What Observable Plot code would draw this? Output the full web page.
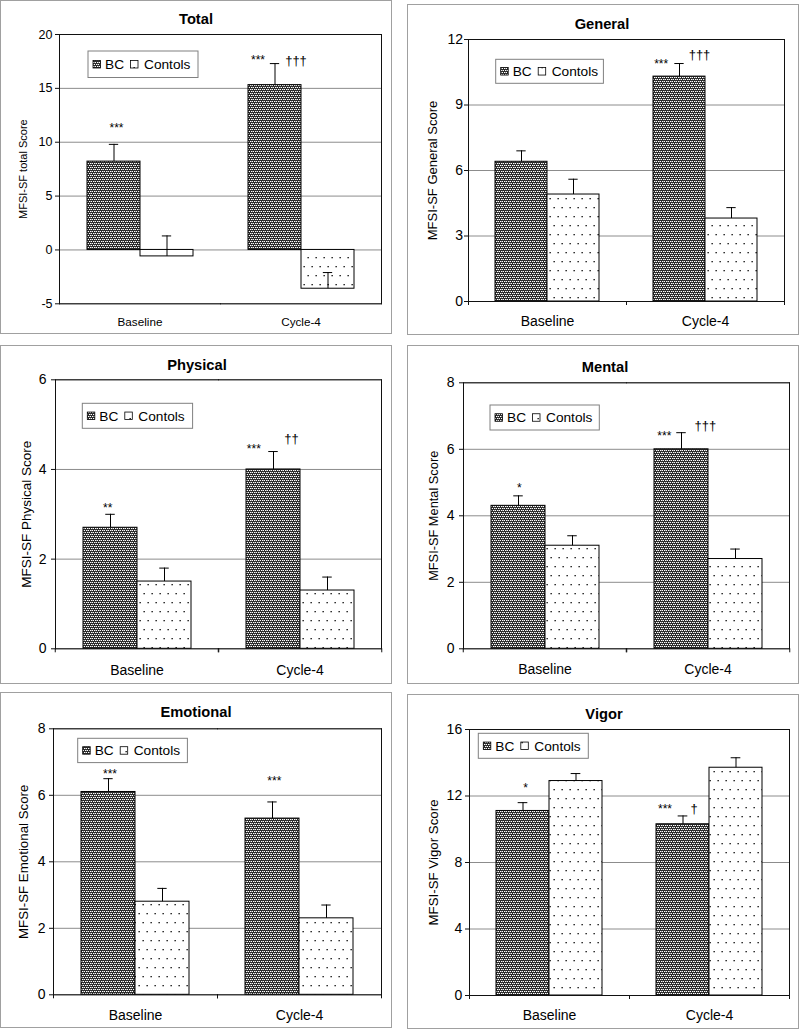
<!DOCTYPE html>
<html><head><meta charset="utf-8">
<script src="https://cdn.jsdelivr.net/npm/d3@7"></script>
<script src="https://cdn.jsdelivr.net/npm/@observablehq/plot@0.6"></script>
<style>
body{margin:0;background:#fff;font-family:"Liberation Sans",Arial,sans-serif;}
#page{position:relative;width:800px;height:1029px;overflow:hidden;background:#fff;}
.panel{position:absolute;box-sizing:border-box;border:1.5px solid #a0a0a0;z-index:2;pointer-events:none;}
.wrap{position:absolute;z-index:1;}
.wrap svg{display:block;}
#overlay{position:absolute;left:0;top:0;z-index:3;pointer-events:none;}
</style></head><body>
<svg width="0" height="0" style="position:absolute">
<defs>
<pattern id="patBC" width="4" height="4" patternUnits="userSpaceOnUse">
<rect width="4" height="4" fill="#2c2c2c"/>
<rect x="0" y="0" width="1" height="1" fill="#fff"/>
<rect x="2" y="0" width="1" height="1" fill="#fff"/>
<rect x="1" y="2" width="1" height="1" fill="#fff"/>
<rect x="3" y="2" width="1" height="1" fill="#fff"/>
<rect x="1" y="0" width="1" height="1" fill="#888"/>
<rect x="2" y="2" width="1" height="1" fill="#888"/>
</pattern>
<pattern id="patCtl" width="8" height="18" patternUnits="userSpaceOnUse">
<rect width="8" height="18" fill="#fff"/>
<rect x="1.5" y="4" width="1.3" height="1.3" fill="#000"/>
<rect x="5.5" y="13" width="1.3" height="1.3" fill="#000"/>
</pattern>
</defs></svg>
<div id="page"></div>
<script>
// ---- data ----
const panelTitles = ["Total","General","Physical","Mental","Emotional","Vigor"];
const times = ["Baseline","Cycle-4"];
const groups = ["BC","Contols"];
const yLabels = ["MFSI-SF total Score","MFSI-SF General Score","MFSI-SF Physical Score","MFSI-SF Mental Score","MFSI-SF Emotional Score","MFSI-SF Vigor Score"];
const bcMean  = [[8.2,15.3],[6.4,10.3],[2.7,4.0],[4.3,6.0],[6.1,5.3],[11.1,10.3]];
const bcErr   = [[1.6,2.0],[0.5,0.6],[0.3,0.4],[0.3,0.5],[0.4,0.5],[0.5,0.5]];
const ctlMean = [[-0.6,-3.6],[4.9,3.8],[1.5,1.3],[3.1,2.7],[2.8,2.3],[12.9,13.7]];
const ctlErr  = [[1.9,1.5],[0.7,0.5],[0.3,0.3],[0.3,0.3],[0.4,0.4],[0.45,0.6]];
const yTicks  = [[-5,0,5,10,15,20],[0,3,6,9,12],[0,2,4,6],[0,2,4,6,8],[0,2,4,6,8],[0,4,8,12,16]];
const sigVsCtl  = [["***","***"],["","***"],["**","***"],["*","***"],["***","***"],["*","***"]];
const sigVsBase = [["","†††"],["","†††"],["","††"],["","†††"],["",""],["","†"]];

// ---- layout (page pixels) ----
const layout = [
 {box:[1,1,390,332],   plot:[59,34,381,303.3],   tickFs:12.5, tickPad:3, labFs:11,   labOff:40, xFs:11.7, xPad:14,   catTicks:false, legend:[88,51,110,26.5],    title:[196,19],
  star:[[2.5,-12.2],[-17,0.2]], dag:[null,[21,1.3]]},
 {box:[408,5,390,329], plot:[468,39,784,301],    tickFs:14, tickPad:1.5, labFs:13, labOff:41, xFs:14,   xPad:14.7, catTicks:true, legend:[495.7,59.3,107.7,24], title:[602,24],
  star:[null,[-18.3,4.5]], dag:[null,[20,-4.7]]},
 {box:[1,346,390,337], plot:[54,379.3,381,648.3], tickFs:14, tickPad:5, labFs:13.5, labOff:34, xFs:14,   xPad:16,   catTicks:true, legend:[82.3,403.3,110.3,25], title:[197,365],
  star:[[-2.8,-2.5],[-19.7,1.5]], dag:[null,[18,-8.4]]},
 {box:[408,346,390,337], plot:[462,382.3,789,648.3], tickFs:14, tickPad:5, labFs:12.8, labOff:35, xFs:14, xPad:15,  catTicks:true, legend:[490,405,109.3,25], title:[605,367],
  star:[[0.8,-3.5],[-17.2,7.2]], dag:[null,[23.8,-2.7]]},
 {box:[1,693,390,334], plot:[53,728.3,381,994.3], tickFs:14, tickPad:4, labFs:13.3, labOff:35, xFs:14,   xPad:15.7, catTicks:true, legend:[77.7,738.3,109.7,24.3], title:[196,712],
  star:[[1.5,-0.8],[1.8,-16.9]], dag:[null,null]},
 {box:[408,695,390,333], plot:[469,729,789,995],   tickFs:14, tickPad:3.3, labFs:13.3, labOff:41, xFs:14, xPad:15,  catTicks:true, legend:[478.3,733.3,110,25], title:[604,714],
  star:[[2.7,-10.2],[-18,-2.5]], dag:[null,[11,-3.4]]}
];

const FONT = "'Liberation Sans', Arial, sans-serif";
const page = document.getElementById("page");

function makePanel(i) {
  const L = layout[i];
  const rows = [];
  times.forEach((t, j) => {
    rows.push({time: t, group: groups[0], value: bcMean[i][j], err: bcErr[i][j]});
    rows.push({time: t, group: groups[1], value: ctlMean[i][j], err: ctlErr[i][j]});
  });
  const [bx, by, bw, bh] = L.box;
  const [pl, pt, pr, pb] = L.plot;
  const fxBand = (pr - pl) / 2;
  const barW = fxBand / 3;
  const capInset = (barW - 10) / 2;
  const top = d => d.value + d.err;
  const ticks = yTicks[i];

  const annot = [];
  times.forEach((t, j) => {
    const row = rows.find(d => d.time === t && d.group === groups[0]);
    if (sigVsCtl[i][j]) annot.push(Plot.text([row], {fx: "time", x: "group", y: top, text: () => sigVsCtl[i][j],
      dx: L.star[j][0], dy: L.star[j][1], fontSize: 12, lineAnchor: "bottom", textAnchor: "middle", fill: "#000"}));
    if (sigVsBase[i][j]) annot.push(Plot.text([row], {fx: "time", x: "group", y: top, text: () => sigVsBase[i][j],
      dx: L.dag[j][0], dy: L.dag[j][1], fontSize: 13, lineAnchor: "bottom", textAnchor: "middle", fill: "#000"}));
  });

  const marks = [
    Plot.gridY(ticks, {stroke: "#8c8c8c", strokeOpacity: 1}),
    Plot.barY(rows.filter(d => d.group === groups[0]), {fx: "time", x: "group", y: "value", fill: "url(#patBC)", stroke: "#000", strokeWidth: 1}),
    Plot.barY(rows.filter(d => d.group === groups[1]), {fx: "time", x: "group", y: "value", fill: "url(#patCtl)", stroke: "#000", strokeWidth: 1}),
    Plot.ruleX(rows, {fx: "time", x: "group", y1: "value", y2: top, stroke: "#000", strokeWidth: 1}),
    Plot.tickY(rows, {fx: "time", x: "group", y: top, insetLeft: capInset, insetRight: capInset, stroke: "#000", strokeWidth: 1}),
    ...annot,
    Plot.frame({anchor: "top", stroke: "#111"}),
    Plot.frame({anchor: "bottom", stroke: "#111"}),
    Plot.frame({anchor: "left", facetAnchor: "left", stroke: "#111"}),
    Plot.frame({anchor: "right", facetAnchor: "right", stroke: "#111"}),
    Plot.axisY({ticks, tickSize: 4, tickPadding: L.tickPad, tickFormat: d => String(d), fontSize: L.tickFs, label: null, stroke: "#111"}),
    Plot.axisY({ticks: [], tickSize: 0, label: yLabels[i], labelAnchor: "center", labelArrow: "none", labelOffset: L.labOff, fontSize: L.labFs}),
    Plot.axisFx({anchor: "bottom", tickSize: 0, tickPadding: L.xPad, fontSize: L.xFs, label: null})
  ];
  if (L.catTicks) {
    marks.push(Plot.axisFx({anchor: "bottom", tickSize: 4, text: null, label: null, dx: fxBand / 2, stroke: "#111"}));
    marks.push(Plot.axisFx({anchor: "bottom", tickSize: 4, text: null, label: null, dx: -fxBand / 2, stroke: "#111"}));
  }

  const svg = Plot.plot({
    width: bw, height: bh,
    marginLeft: pl - bx, marginTop: pt - by, marginRight: bx + bw - pr, marginBottom: by + bh - pb,
    style: {fontFamily: FONT, fontSize: L.tickFs + "px", background: "transparent", overflow: "visible", color: "#000"},
    fx: {domain: times, padding: 0, label: null, axis: null},
    x: {domain: groups, paddingInner: 0, paddingOuter: 0.5, axis: null},
    y: {domain: [ticks[0], ticks[ticks.length - 1]], axis: null},
    marks
  });
  const wrap = document.createElement("div");
  wrap.className = "wrap";
  wrap.style.left = bx + "px"; wrap.style.top = by + "px";
  wrap.style.width = bw + "px"; wrap.style.height = bh + "px";
  wrap.appendChild(svg);
  page.appendChild(wrap);

  const border = document.createElement("div");
  border.className = "panel";
  border.style.left = (bx - 0.75) + "px"; border.style.top = (by - 0.75) + "px";
  border.style.width = (bw + 1.5) + "px"; border.style.height = (bh + 1.5) + "px";
  page.appendChild(border);
}

layout.forEach((_, i) => makePanel(i));

// titles and legends
const overlay = d3.create("svg").attr("id", "overlay").attr("width", 800).attr("height", 1029)
  .style("font-family", FONT);
layout.forEach((L, i) => {
  overlay.append("text").attr("x", L.title[0]).attr("y", L.title[1] + 5.3)
    .attr("text-anchor", "middle").attr("font-weight", "bold").attr("font-size", 14.7).attr("fill", "#000")
    .text(panelTitles[i]);
  const [lx, ly, lw, lh] = L.legend;
  const g = overlay.append("g");
  g.append("rect").attr("x", lx).attr("y", ly).attr("width", lw).attr("height", lh)
    .attr("fill", "#fff").attr("stroke", "#808080").attr("stroke-width", 1);
  const cy = ly + lh / 2;
  const fs = 13.7;
  g.append("rect").attr("x", lx + 5).attr("y", cy - 3.75).attr("width", 7.5).attr("height", 7.5)
    .attr("fill", "url(#patBC)").attr("stroke", "#000").attr("stroke-width", 0.8);
  g.append("text").attr("x", lx + 17).attr("y", cy + 0.358 * fs).attr("font-size", fs).attr("fill", "#000").text(groups[0]);
  g.append("rect").attr("x", lx + 42.5).attr("y", cy - 3.75).attr("width", 7.5).attr("height", 7.5)
    .attr("fill", "url(#patCtl)").attr("stroke", "#000").attr("stroke-width", 0.8);
  g.append("text").attr("x", lx + 56).attr("y", cy + 0.358 * fs).attr("font-size", fs).attr("fill", "#000").text(groups[1]);
});
page.appendChild(overlay.node());
</script>
</body></html>
